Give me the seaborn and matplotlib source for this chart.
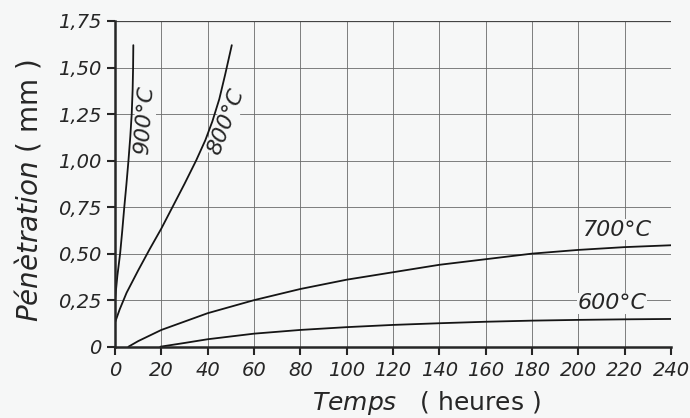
import matplotlib
matplotlib.use("Agg")
import matplotlib.pyplot as plt
import seaborn as sns
import pandas as pd

# ---- data ----
x_900 = [0, 1, 2.2, 3.1, 4.0, 4.9, 5.8, 6.6, 7.2, 7.6, 7.8, 7.9]
y_900 = [0.25, 0.38, 0.50, 0.62, 0.75, 0.87, 1.00, 1.13, 1.25, 1.38, 1.50, 1.62]

x_800 = [0, 2, 5, 10, 15, 20, 25, 30, 35, 39, 42, 45, 47.5, 50.4]
y_800 = [0.13, 0.20, 0.29, 0.41, 0.525, 0.635, 0.755, 0.875, 1.00, 1.11, 1.21, 1.33, 1.46, 1.62]

x_700 = [5.8, 10, 20, 30, 40, 50, 60, 80, 100, 120, 140, 160, 180, 200, 220, 240]
y_700 = [0, 0.03, 0.09, 0.135, 0.18, 0.215, 0.25, 0.31, 0.36, 0.40, 0.44, 0.47, 0.50, 0.52, 0.535, 0.545]

x_600 = [19.6, 30, 40, 60, 80, 100, 120, 140, 160, 180, 200, 220, 240]
y_600 = [0, 0.02, 0.04, 0.07, 0.09, 0.105, 0.117, 0.126, 0.134, 0.14, 0.144, 0.147, 0.149]

series_names = ["900°C", "800°C", "700°C", "600°C"]
x_ticks = list(range(0, 241, 20))
y_ticks = [0, 0.25, 0.50, 0.75, 1.00, 1.25, 1.50, 1.75]
y_tick_labels = ["0", "0,25", "0,50", "0,75", "1,00", "1,25", "1,50", "1,75"]

# ---- build long table ----
frames = []
for name, xs, ys in zip(series_names, [x_900, x_800, x_700, x_600],
                        [y_900, y_800, y_700, y_600]):
    frames.append(pd.DataFrame({"t": xs, "p": ys, "serie": name}))
df = pd.concat(frames, ignore_index=True)

sns.set_theme(style="white")
plt.rcParams["font.family"] = ["DejaVu Sans"]
plt.rcParams["mathtext.fontset"] = "dejavusans"

bg = "#f6f7f7"
ink = "#262626"
fig = plt.figure(figsize=(6.9, 4.18), dpi=100, facecolor=bg)
ax = fig.add_axes([0.1667, 0.1706, 0.8058, 0.7792], facecolor=bg)

for name in series_names:
    sub = df[df["serie"] == name]
    sns.lineplot(data=sub, x="t", y="p", ax=ax, color="#151515", lw=1.3,
                 sort=False, estimator=None, legend=False)

ax.set_xlim(0, 240)
ax.set_ylim(0, 1.75)
ax.set_xticks(x_ticks)
ax.set_xticklabels([str(v) for v in x_ticks], fontsize=14, fontstyle="italic")
ax.set_yticks(y_ticks)
ax.set_yticklabels(y_tick_labels, fontsize=14, fontstyle="italic")
ax.grid(True, color="#6a6a6a", lw=0.6)
ax.tick_params(axis="both", direction="out", length=6, width=1.5, color=ink,
               pad=4, labelcolor=ink, bottom=True, left=True)

for s in ["top", "right"]:
    ax.spines[s].set_visible(False)
for s in ["left", "bottom"]:
    ax.spines[s].set_color(ink)
    ax.spines[s].set_linewidth(1.8)
# right/top frame lines are grid lines at 240 and 1.75
ax.axvline(240, color="#6a6a6a", lw=0.6)
ax.axhline(1.75, color="#444444", lw=0.9)

ax.set_xlabel(r"$\mathit{Temps}$   ( heures )", fontsize=18, color=ink)
ax.set_ylabel(r"$\mathit{Pénètration}$ ( mm )", fontsize=20, color=ink)
ax.xaxis.set_label_coords(0.56, -0.13)
ax.yaxis.set_label_coords(-0.128, 0.478)

lab_kw = dict(fontsize=16, fontstyle="italic", color=ink, ha="center", va="center",
              bbox=dict(facecolor=bg, edgecolor="none", pad=0.5))
ax.text(12.9, 1.216, series_names[0], rotation=86, **lab_kw)
ax.text(47.9, 1.21, series_names[1], rotation=69, **lab_kw)
ax.text(217, 0.628, series_names[2], rotation=0, **lab_kw)
ax.text(214.5, 0.233, series_names[3], rotation=0, **lab_kw)

fig.savefig("out.png", dpi=100, facecolor=bg)
